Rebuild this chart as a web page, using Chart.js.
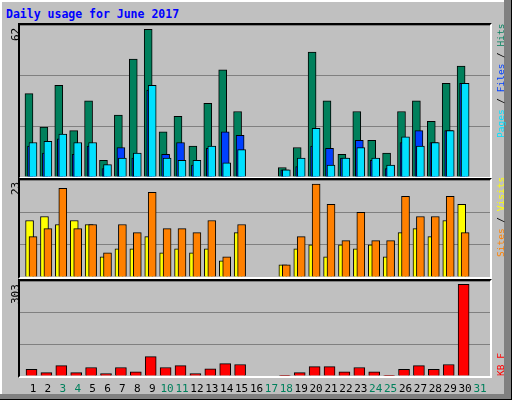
<!DOCTYPE html>
<html>
<head>
<meta charset="utf-8">
<script src="https://cdn.jsdelivr.net/npm/chart.js@4"></script>
<style>
body { margin: 0; background: #fff; }
#wrap { position: relative; width: 512px; height: 400px; background: #C0C0C0; overflow: hidden;
	font-family: "DejaVu Sans Mono", monospace; font-size: 11px; }
.edge { position: absolute; }
.panel { position: absolute; }
.frame { position: absolute; border-top: 2px solid #000; border-left: 2px solid #000;
	border-right: 2px solid #fff; border-bottom: 2px solid #fff; pointer-events: none; }
.rot { position: absolute; transform-origin: left top; transform: rotate(-90deg); white-space: nowrap; }
.side { font-size: 9.5px; }
.day { position: absolute; top: 382px; width: 20px; margin-left: -10px; text-align: center; }
</style>
</head>
<body>
<div id="wrap">
	<div class="edge" style="left:0;top:0;width:512px;height:2px;background:#fff"></div>
	<div class="edge" style="left:0;top:0;width:2px;height:400px;background:#fff"></div>
	<div class="edge" style="right:0;top:0;width:8px;height:400px;background:#808080"></div>
	<div class="edge" style="left:0;bottom:0;width:512px;height:6px;background:#808080"></div>
	<div class="edge" style="right:0;top:0;width:1px;height:400px;background:#000"></div>
	<div class="edge" style="left:0;bottom:0;width:512px;height:1px;background:#000"></div>
	<div style="position:absolute;left:6px;top:7px;color:#0000FF;font-weight:bold;font-size:11.5px">Daily usage for June 2017</div>

	<canvas id="c1" class="panel" width="470" height="152" style="left:20px;top:25px"></canvas>
	<canvas id="c2" class="panel" width="470" height="97" style="left:20px;top:180px"></canvas>
	<canvas id="c3" class="panel" width="470" height="95" style="left:20px;top:281px"></canvas>
	<div class="frame" style="left:18px;top:23px;width:470px;height:152px"></div>
	<div class="frame" style="left:18px;top:178px;width:470px;height:97px"></div>
	<div class="frame" style="left:18px;top:279px;width:470px;height:95px"></div>

	<div class="rot" style="left:9px;top:41px">62</div>
	<div class="rot" style="left:9px;top:195px">23</div>
	<div class="rot" style="left:9px;top:304px">303</div>

	<div class="rot side" style="left:495px;top:138px"><span style="color:#00E0FF">Pages</span> / <span style="color:#0040FF">Files</span> / <span style="color:#00805C">Hits</span></div>
	<div class="rot side" style="left:495px;top:257px"><span style="color:#FF8000">Sites</span> / <span style="color:#FFFF00">Visits</span></div>
	<div class="rot side" style="left:495px;top:376px;color:#FF0000">KB F</div>
	<div id="days"></div>
</div>
<script>
const days = Array.from({ length: 31 }, (_, i) => i + 1);
const weekend = [3, 4, 10, 11, 17, 18, 24, 25, 31];
const hits = [35, 21, 38.5, 19.5, 32, 7, 26, 49.5, 62, 19, 25.5, 13, 31, 45, 27.5, null, null, 4, 12.4, 52.5, 32, 9.5, 27.5, 15.4, 10, 27.5, 32, 23.4, 39.4, 46.6, null];
const files = [13, 10, 16, 9.5, 13, 3.5, 12.4, 8, 36.5, 9.5, 14.5, 5, 12, 19, 17.5, null, null, 3, 4.4, 13, 12, 8, 15.4, 7, 3.5, 14.5, 19.5, 14.5, 19.5, 39.4, null];
const pages = [14.5, 15, 18, 14.5, 14.5, 5.2, 8, 10, 38.5, 8, 7, 7, 13, 6, 11.5, null, null, 3, 8, 20.4, 5, 8, 12.4, 8, 5, 16.9, 13, 14.5, 19.5, 39.4, null];
const visits = [14, 15, 13, 14, 13, 5, 7, 7, 10, 6, 7, 6, 7, 4, 11, null, null, 3, 7, 8, 5, 8, 7, 8, 5, 11, 12, 10, 14, 18, null];
const sites = [10, 12, 22, 12, 13, 6, 13, 11, 21, 12, 12, 11, 14, 5, 13, null, null, 3, 10, 23, 18, 9, 16, 9, 9, 20, 15, 15, 20, 11, null];
const kbytes = [22, 11, 34, 11, 28, 8, 28, 14, 64, 28, 34, 8, 24, 41, 38, null, null, 2, 11, 31, 31, 14, 28, 14, 2, 22, 34, 22, 38, 303, null];

const xMin = 0.128, xMax = 31.67;

function series(values, shift) {
	return values.map((v, i) => ({ x: days[i] + shift, y: v }));
}

function makeChart(id, datasets, yMax) {
	new Chart(document.getElementById(id), {
		type: 'bar',
		data: { datasets: datasets },
		options: {
			responsive: false,
			animation: false,
			layout: { padding: 0 },
			plugins: { legend: { display: false }, tooltip: { enabled: false } },
			scales: {
				x: { type: 'linear', min: xMin, max: xMax, offset: false, display: false },
				y: {
					min: 0, max: yMax,
					ticks: { display: false, stepSize: yMax / 3 },
					grid: { color: '#808080', drawTicks: false, lineWidth: 1 },
					border: { display: false }
				}
			}
		}
	});
}

// order: higher numbers are drawn first (underneath)
function bar(values, shift, color, width, order) {
	return { data: series(values, shift), backgroundColor: color, borderColor: '#000', borderWidth: 1,
		barThickness: width, grouped: false, order: order };
}

makeChart('c1', [
	bar(hits, -0.27, '#00805C', 8, 3),
	bar(files, -0.1, '#0040FF', 8, 2),
	bar(pages, 0, '#00E0FF', 8, 1)
], 62 * 1.03);

makeChart('c2', [
	bar(visits, -0.23, '#FFFF00', 8, 2),
	bar(sites, 0, '#FF8000', 8, 1)
], 23 * 1.045);

makeChart('c3', [
	bar(kbytes, -0.1, '#FF0000', 11, 1)
], 303 * 1.035);

const dayBox = document.getElementById('days');
days.forEach(d => {
	const el = document.createElement('div');
	el.className = 'day';
	el.style.left = (20 + (d - xMin) / (xMax - xMin) * 470) + 'px';
	el.style.color = weekend.includes(d) ? '#00805C' : '#000';
	el.textContent = d;
	dayBox.appendChild(el);
});
</script>
</body>
</html>
